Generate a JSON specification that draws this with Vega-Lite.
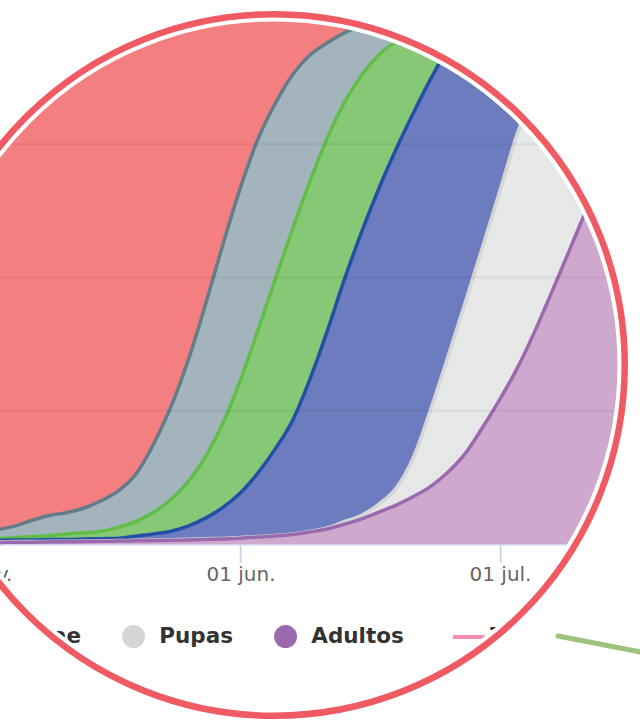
{
  "$schema": "https://vega.github.io/schema/vega-lite/v6.json",
  "background": "white",
  "autosize": {"type": "pad"},
  "padding": {"left": -123.8, "top": 0, "right": -23.35, "bottom": 0},
  "bounds": "flush",
  "spacing": 0,
  "config": {"view": {"stroke": null}},
  "resolve": {
    "scale": {"x": "independent", "y": "independent", "color": "independent"},
    "legend": {"color": "independent"}
  },
  "vconcat": [
    {
      "width": 1,
      "height": 1,
      "data": {"values": [{}]},
      "mark": {"type": "point", "filled": true, "opacity": 0, "size": 0},
      "encoding": {
        "color": {
          "datum": "Larvae",
          "scale": {
            "domain": ["Larvae", "Pupas", "Adultos", "Trampas"],
            "range": ["#2350a5", "#d4d6d5", "#9b69ae", "#f48caf"]
          },
          "legend": {
            "title": null,
            "orient": "none",
            "legendX": 85.6,
            "legendY": 625.5,
            "direction": "horizontal",
            "symbolType": "circle",
            "symbolSize": 529,
            "symbolStrokeWidth": 0,
            "symbolOpacity": 1,
            "labelFont": "DejaVu Sans",
            "labelFontSize": 21.5,
            "labelFontWeight": "bold",
            "labelColor": "#333333",
            "labelOffset": 15,
            "columnPadding": 40,
            "padding": 0,
            "encode": {
              "symbols": {
                "update": {
                  "fill": {"signal": "datum.value === 'Trampas' ? 'transparent' : datum.value === 'Pupas' ? '#d4d6d5' : datum.value === 'Adultos' ? '#9b69ae' : '#2350a5'"},
                  "stroke": {"signal": "datum.value === 'Trampas' ? '#f48caf' : 'transparent'"},
                  "strokeWidth": {"signal": "datum.value === 'Trampas' ? 4 : 0"},
                  "shape": {"signal": "datum.value === 'Trampas' ? 'M-1.957,0L0.826,0' : 'circle'"},
                  "size": {"value": 529},
                  "opacity": {"value": 1}
                }
              },
              "labels": {
                "update": {
                  "dx": {"signal": "datum.value === 'Trampas' ? -11 : 0"}
                }
              }
            }
          }
        }
      }
    },
    {
      "width": 787.15,
      "height": 721,
      "data": {
        "values": [
          {"date": "2024-05-02", "serie1": 100, "serie2": 2.3, "serie3": 0.8, "larvae": 0.7, "pupas": 0.4, "adultos": 0.3},
          {"date": "2024-05-04", "serie1": 100, "serie2": 2.7, "serie3": 1.0, "larvae": 0.7, "pupas": 0.4, "adultos": 0.3},
          {"date": "2024-05-06", "serie1": 100, "serie2": 3.4, "serie3": 1.2, "larvae": 0.75, "pupas": 0.45, "adultos": 0.35},
          {"date": "2024-05-08", "serie1": 100, "serie2": 4.5, "serie3": 1.4, "larvae": 0.75, "pupas": 0.45, "adultos": 0.35},
          {"date": "2024-05-10", "serie1": 100, "serie2": 5.4, "serie3": 1.6, "larvae": 0.85, "pupas": 0.5, "adultos": 0.4},
          {"date": "2024-05-12", "serie1": 100, "serie2": 5.9, "serie3": 1.9, "larvae": 0.85, "pupas": 0.5, "adultos": 0.4},
          {"date": "2024-05-14", "serie1": 100, "serie2": 6.8, "serie3": 2.1, "larvae": 0.95, "pupas": 0.55, "adultos": 0.45},
          {"date": "2024-05-16", "serie1": 100, "serie2": 8.2, "serie3": 2.4, "larvae": 1.0, "pupas": 0.6, "adultos": 0.5},
          {"date": "2024-05-18", "serie1": 100, "serie2": 10.1, "serie3": 3.2, "larvae": 1.1, "pupas": 0.65, "adultos": 0.55},
          {"date": "2024-05-20", "serie1": 100, "serie2": 13.3, "serie3": 4.3, "larvae": 1.5, "pupas": 0.7, "adultos": 0.6},
          {"date": "2024-05-22", "serie1": 100, "serie2": 18.9, "serie3": 6.0, "larvae": 1.9, "pupas": 0.75, "adultos": 0.65},
          {"date": "2024-05-24", "serie1": 100, "serie2": 25.9, "serie3": 8.4, "larvae": 2.4, "pupas": 0.8, "adultos": 0.7},
          {"date": "2024-05-26", "serie1": 100, "serie2": 34.7, "serie3": 11.8, "larvae": 3.4, "pupas": 0.9, "adultos": 0.75},
          {"date": "2024-05-28", "serie1": 100, "serie2": 45.2, "serie3": 16.5, "larvae": 4.9, "pupas": 1.0, "adultos": 0.85},
          {"date": "2024-05-30", "serie1": 100, "serie2": 56.4, "serie3": 22.8, "larvae": 6.9, "pupas": 1.05, "adultos": 0.95},
          {"date": "2024-06-01", "serie1": 100, "serie2": 66.9, "serie3": 30.8, "larvae": 9.6, "pupas": 1.2, "adultos": 1.1},
          {"date": "2024-06-03", "serie1": 100, "serie2": 75.9, "serie3": 40.0, "larvae": 13.3, "pupas": 1.4, "adultos": 1.3},
          {"date": "2024-06-05", "serie1": 100, "serie2": 82.6, "serie3": 49.6, "larvae": 17.8, "pupas": 1.6, "adultos": 1.5},
          {"date": "2024-06-07", "serie1": 100, "serie2": 88.0, "serie3": 59.0, "larvae": 23.1, "pupas": 1.9, "adultos": 1.8},
          {"date": "2024-06-09", "serie1": 100, "serie2": 91.7, "serie3": 67.9, "larvae": 30.8, "pupas": 2.35, "adultos": 2.25},
          {"date": "2024-06-11", "serie1": 100, "serie2": 94.0, "serie3": 76.0, "larvae": 39.8, "pupas": 3.0, "adultos": 2.8},
          {"date": "2024-06-13", "serie1": 100, "serie2": 95.9, "serie3": 82.8, "larvae": 49.6, "pupas": 4.2, "adultos": 3.7},
          {"date": "2024-06-15", "serie1": 100, "serie2": 97.4, "serie3": 88.0, "larvae": 58.5, "pupas": 5.4, "adultos": 4.7},
          {"date": "2024-06-17", "serie1": 100, "serie2": 98.5, "serie3": 91.8, "larvae": 66.7, "pupas": 7.5, "adultos": 6.0},
          {"date": "2024-06-19", "serie1": 100, "serie2": 99.2, "serie3": 94.3, "larvae": 74.1, "pupas": 10.5, "adultos": 7.3},
          {"date": "2024-06-21", "serie1": 100, "serie2": 99.8, "serie3": 96.0, "larvae": 80.9, "pupas": 16.3, "adultos": 8.9},
          {"date": "2024-06-23", "serie1": 100, "serie2": 100, "serie3": 97.2, "larvae": 87.3, "pupas": 25.3, "adultos": 10.8},
          {"date": "2024-06-25", "serie1": 100, "serie2": 100, "serie3": 98.2, "larvae": 92.9, "pupas": 35.2, "adultos": 13.5},
          {"date": "2024-06-27", "serie1": 100, "serie2": 100, "serie3": 99.0, "larvae": 96.8, "pupas": 45.4, "adultos": 17.0},
          {"date": "2024-06-29", "serie1": 100, "serie2": 100, "serie3": 99.6, "larvae": 99.0, "pupas": 55.8, "adultos": 21.9},
          {"date": "2024-07-01", "serie1": 100, "serie2": 100, "serie3": 100, "larvae": 99.8, "pupas": 66.3, "adultos": 27.2},
          {"date": "2024-07-03", "serie1": 100, "serie2": 100, "serie3": 100, "larvae": 100, "pupas": 77.0, "adultos": 33.0},
          {"date": "2024-07-05", "serie1": 100, "serie2": 100, "serie3": 100, "larvae": 100, "pupas": 85.0, "adultos": 39.8},
          {"date": "2024-07-07", "serie1": 100, "serie2": 100, "serie3": 100, "larvae": 100, "pupas": 90.8, "adultos": 47.3},
          {"date": "2024-07-09", "serie1": 100, "serie2": 100, "serie3": 100, "larvae": 100, "pupas": 94.9, "adultos": 55.0},
          {"date": "2024-07-11", "serie1": 100, "serie2": 100, "serie3": 100, "larvae": 100, "pupas": 97.5, "adultos": 62.7},
          {"date": "2024-07-13", "serie1": 100, "serie2": 100, "serie3": 100, "larvae": 100, "pupas": 98.9, "adultos": 70.0},
          {"date": "2024-07-15", "serie1": 100, "serie2": 100, "serie3": 100, "larvae": 100, "pupas": 99.6, "adultos": 76.5},
          {"date": "2024-07-17", "serie1": 100, "serie2": 100, "serie3": 100, "larvae": 100, "pupas": 100, "adultos": 82.2},
          {"date": "2024-07-19", "serie1": 100, "serie2": 100, "serie3": 100, "larvae": 100, "pupas": 100, "adultos": 87.0}
        ]
      },
      "layer": [
        {
          "mark": {"type": "area", "color": "#f47f81", "interpolate": "monotone"},
          "encoding": {
            "x": {
              "field": "date",
              "type": "temporal",
              "scale": {
                "type": "utc",
                "domain": [
                  {"year": 2024, "month": 4, "date": 20, "utc": true},
                  {"year": 2024, "month": 7, "date": 20, "utc": true}
                ]
              },
              "axis": {
                "title": null,
                "offset": -178,
                "values": [
                  {"year": 2024, "month": 5, "date": 1, "utc": true},
                  {"year": 2024, "month": 6, "date": 1, "utc": true},
                  {"year": 2024, "month": 7, "date": 1, "utc": true}
                ],
                "labelExpr": "utcFormat(datum.value, '%d') + ' ' + ['ene.','feb.','mar.','abr.','may.','jun.','jul.','ago.','sep.','oct.','nov.','dic.'][utcmonth(datum.value)]",
                "grid": false,
                "domainColor": "#ccd6eb",
                "domainWidth": 2,
                "tickColor": "#ccd6eb",
                "tickWidth": 2,
                "tickSize": 18,
                "labelFont": "DejaVu Sans",
                "labelFontSize": 20,
                "labelColor": "#666666",
                "labelPadding": 3,
                "labelFlush": false,
                "labelOverlap": false
              }
            },
            "y": {
              "field": "serie1",
              "type": "quantitative",
              "scale": {"domain": [-33.396, 101.876], "nice": false, "zero": false},
              "axis": null
            }
          }
        },
        {
          "mark": {"type": "area", "color": "#a4b4bc", "interpolate": "monotone"},
          "encoding": {"x": {"field": "date", "type": "temporal"}, "y": {"field": "serie2", "type": "quantitative"}}
        },
        {
          "mark": {"type": "line", "color": "#627c89", "strokeWidth": 3.5, "interpolate": "monotone"},
          "encoding": {"x": {"field": "date", "type": "temporal"}, "y": {"field": "serie2", "type": "quantitative"}}
        },
        {
          "mark": {"type": "area", "color": "#86c875", "interpolate": "monotone"},
          "encoding": {"x": {"field": "date", "type": "temporal"}, "y": {"field": "serie3", "type": "quantitative"}}
        },
        {
          "mark": {"type": "line", "color": "#60be48", "strokeWidth": 3.5, "interpolate": "monotone"},
          "encoding": {"x": {"field": "date", "type": "temporal"}, "y": {"field": "serie3", "type": "quantitative"}}
        },
        {
          "mark": {"type": "area", "color": "#6c7cbe", "interpolate": "monotone"},
          "encoding": {"x": {"field": "date", "type": "temporal"}, "y": {"field": "larvae", "type": "quantitative"}}
        },
        {
          "mark": {"type": "line", "color": "#2350a5", "strokeWidth": 3.5, "interpolate": "monotone"},
          "encoding": {"x": {"field": "date", "type": "temporal"}, "y": {"field": "larvae", "type": "quantitative"}}
        },
        {
          "mark": {"type": "area", "color": "#e6e8e7", "interpolate": "monotone"},
          "encoding": {"x": {"field": "date", "type": "temporal"}, "y": {"field": "pupas", "type": "quantitative"}}
        },
        {
          "mark": {"type": "line", "color": "#d4d6d5", "strokeWidth": 3.5, "interpolate": "monotone"},
          "encoding": {"x": {"field": "date", "type": "temporal"}, "y": {"field": "pupas", "type": "quantitative"}}
        },
        {
          "mark": {"type": "area", "color": "#cfa8ce", "interpolate": "monotone"},
          "encoding": {"x": {"field": "date", "type": "temporal"}, "y": {"field": "adultos", "type": "quantitative"}}
        },
        {
          "mark": {"type": "line", "color": "#9b69ae", "strokeWidth": 3.5, "interpolate": "monotone"},
          "encoding": {"x": {"field": "date", "type": "temporal"}, "y": {"field": "adultos", "type": "quantitative"}}
        },
        {
          "data": {"values": [{"nivel": 25}, {"nivel": 50}, {"nivel": 75}, {"nivel": 100}]},
          "mark": {"type": "rule", "color": "#000000", "opacity": 0.06, "strokeWidth": 2},
          "encoding": {
            "y": {"field": "nivel", "type": "quantitative"}
          }
        },
        {
          "data": {"values": [{"fecha": "2024-06-04T20:57:00Z", "valor": 33.58}]},
          "mark": {"type": "point", "shape": "circle", "filled": false, "color": "#ffffff", "stroke": "#ffffff", "strokeWidth": 186.5, "size": 763002, "opacity": 1, "clip": true},
          "encoding": {
            "x": {"field": "fecha", "type": "temporal"},
            "y": {"field": "valor", "type": "quantitative"}
          }
        },
        {
          "data": {"values": [{"fecha": "2024-06-04T20:57:00Z", "valor": 33.58}]},
          "mark": {"type": "point", "shape": "circle", "filled": false, "color": "#f05a62", "stroke": "#f05a62", "strokeWidth": 6.5, "size": 492102, "opacity": 1, "clip": true},
          "encoding": {
            "x": {"field": "fecha", "type": "temporal"},
            "y": {"field": "valor", "type": "quantitative"}
          }
        },
        {
          "data": {"values": [{"fecha": "2024-07-07T16:55:00Z", "fecha2": "2024-07-19T14:38:00Z", "valor": -17.26, "valor2": -21.0}]},
          "mark": {"type": "rule", "color": "#9cc47c", "strokeWidth": 5, "strokeCap": "round", "clip": true},
          "encoding": {
            "x": {"field": "fecha", "type": "temporal"},
            "x2": {"field": "fecha2"},
            "y": {"field": "valor", "type": "quantitative"},
            "y2": {"field": "valor2"}
          }
        }
      ]
    }
  ]
}
